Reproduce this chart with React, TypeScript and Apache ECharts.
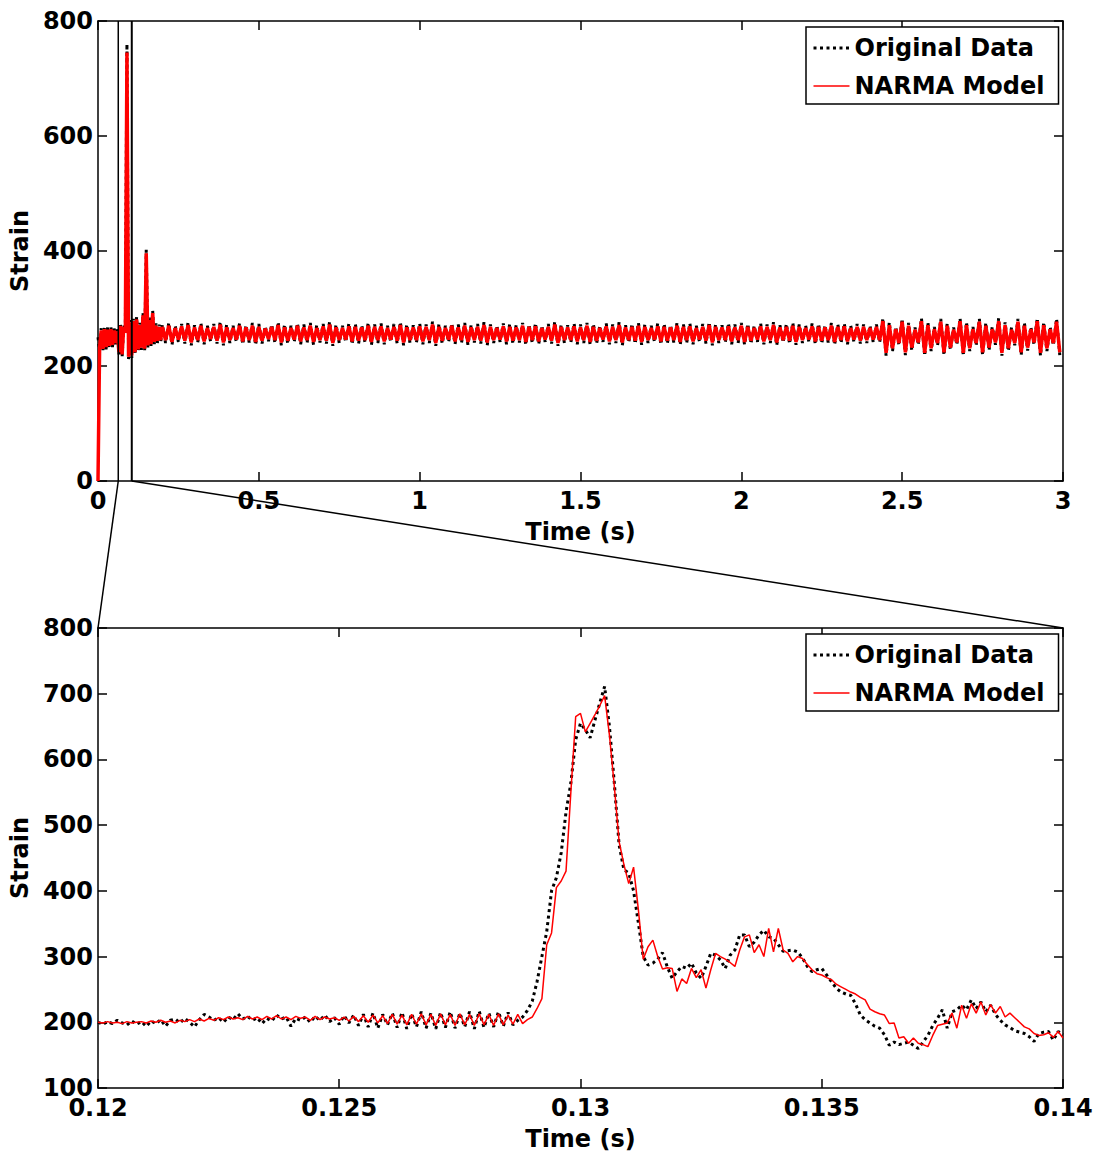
import React, { useEffect, useRef } from "react";
import * as echarts from "echarts";

// ---------- top panel (0 – 3 s) ----------
const EARLY_STEP = 0.005; // early transient sampled every 5 ms (t = 0 … 0.195)
const BAND_START = 0.2; // steady oscillating band, envelope read every 20 ms
const BAND_STEP = 0.02;

const earlyOriginal = [
  250, 228, 266, 226, 268, 229, 267, 231, 268, 233,
  266, 236, 264, 220, 274, 216, 272, 262, 760, 212,
  280, 214, 282, 220, 285, 225, 275, 228, 292, 226,
  402, 232, 284, 234, 296, 238, 274, 240, 272, 242,
];
const earlyModel = [
  0, 232, 262, 230, 264, 233, 263, 235, 264, 237,
  262, 240, 260, 224, 270, 220, 268, 258, 745, 216,
  276, 218, 278, 224, 281, 229, 271, 232, 288, 230,
  396, 236, 280, 238, 292, 242, 270, 244, 268, 245,
];

const bandOriginalHigh = [
  272, 275, 270, 273, 276, 271, 274, 270, 273, 277,
  272, 270, 274, 271, 275, 273, 269, 272, 276, 272,
  270, 274, 272, 275, 271, 273, 277, 272, 270, 274,
  273, 271, 275, 272, 274, 270, 273, 276, 272, 271,
  274, 272, 277, 273, 270, 274, 272, 275, 271, 273,
  276, 272, 270, 274, 273, 271, 275, 272, 274, 270,
  273, 277, 272, 271, 274, 272, 275, 273, 270, 274,
  272, 276, 271, 273, 275, 272, 270, 274, 273, 271,
  275, 272, 274, 270, 273, 276, 272, 271, 274, 272,
  275, 273, 270, 274, 272, 276, 271, 273, 275, 272,
  270, 274, 273, 271, 275, 272, 274, 270, 273, 272, 270,
  272, 283, 276, 268, 282, 275, 267, 283, 276, 268,
  282, 274, 267, 283, 276, 268, 282, 275, 268, 283,
  276, 267, 282, 275, 268, 283, 276, 268, 282,
];
const bandOriginalLow = [
  240, 237, 242, 239, 236, 241, 238, 243, 239, 236,
  240, 242, 238, 241, 237, 239, 243, 240, 236, 239,
  242, 238, 240, 237, 241, 239, 235, 240, 242, 238,
  239, 241, 237, 240, 238, 242, 239, 236, 240, 241,
  238, 240, 235, 239, 242, 238, 240, 237, 241, 239,
  236, 240, 242, 238, 239, 241, 237, 240, 238, 242,
  239, 235, 240, 241, 238, 240, 237, 239, 242, 238,
  240, 236, 241, 239, 237, 240, 242, 238, 239, 241,
  237, 240, 238, 242, 239, 236, 240, 241, 238, 240,
  237, 239, 242, 238, 240, 236, 241, 239, 237, 240,
  242, 238, 239, 241, 237, 240, 238, 242, 239, 240, 242,
  241, 218, 226, 236, 219, 227, 237, 218, 226, 236,
  219, 228, 237, 218, 226, 236, 219, 227, 237, 218,
  226, 236, 219, 227, 237, 218, 226, 236, 219,
];
const bandModelHigh = [
  268, 270, 266, 269, 271, 267, 270, 266, 268, 272,
  267, 266, 270, 267, 270, 268, 265, 268, 271, 267,
  266, 270, 267, 270, 266, 269, 272, 267, 266, 269,
  268, 267, 270, 268, 269, 266, 268, 271, 267, 267,
  269, 268, 272, 268, 266, 270, 267, 270, 267, 268,
  271, 268, 266, 269, 268, 267, 270, 268, 269, 266,
  268, 272, 268, 267, 269, 267, 270, 268, 266, 269,
  268, 271, 267, 268, 270, 268, 266, 269, 268, 267,
  270, 268, 269, 266, 268, 271, 268, 267, 269, 267,
  270, 268, 266, 269, 268, 271, 267, 268, 270, 268,
  266, 269, 268, 267, 270, 268, 269, 266, 268, 268, 266,
  268, 278, 271, 264, 277, 270, 263, 278, 271, 264,
  277, 270, 263, 278, 271, 264, 277, 270, 264, 278,
  271, 263, 277, 270, 264, 278, 271, 264, 277,
];
const bandModelLow = [
  245, 242, 246, 244, 241, 245, 243, 247, 244, 241,
  245, 246, 243, 245, 242, 244, 247, 245, 241, 244,
  246, 243, 245, 242, 245, 244, 240, 245, 246, 243,
  244, 245, 242, 245, 243, 246, 244, 241, 245, 245,
  243, 245, 240, 244, 246, 243, 245, 242, 245, 244,
  241, 245, 246, 243, 244, 245, 242, 245, 243, 246,
  244, 240, 245, 245, 243, 245, 242, 244, 246, 243,
  245, 241, 245, 244, 242, 245, 246, 243, 244, 245,
  242, 245, 243, 246, 244, 241, 245, 245, 243, 245,
  242, 244, 246, 243, 245, 241, 245, 244, 242, 245,
  246, 243, 244, 245, 242, 245, 243, 246, 244, 245, 246,
  245, 223, 231, 240, 224, 232, 241, 223, 231, 240,
  224, 232, 241, 223, 231, 240, 224, 232, 241, 223,
  231, 240, 224, 232, 241, 223, 231, 240, 224,
];

// ---------- bottom panel (0.12 – 0.14 s, sampled every 0.1 ms) ----------
const ZOOM_START = 0.12;
const ZOOM_STEP = 0.0001;
const zoomOriginal = [
  200, 197, 201, 198, 203, 199, 196, 202, 197, 201,
  194, 202, 198, 204, 194, 203, 205, 199, 206, 200,
  193, 204, 212, 208, 203, 207, 200, 208, 204, 213,
  205, 209, 203, 207, 198, 206, 202, 211, 205, 208,
  194, 206, 203, 208, 200, 209, 203, 211, 201, 207,
  197, 210, 199, 211, 195, 212, 193, 214, 191, 212,
  196, 214, 192, 215, 190, 213, 193, 216, 191, 214,
  190, 215, 192, 216, 191, 214, 193, 216, 190, 217,
  192, 214, 193, 216, 194, 215, 196, 203, 208, 218,
  232, 262, 300, 338, 400, 420, 458, 520, 564, 630,
  655, 645, 633, 660, 686, 711, 650, 565, 470, 432,
  427, 400, 351, 300, 287, 290, 296, 306, 284, 267,
  277, 285, 282, 290, 275, 267, 285, 305, 302, 295,
  282, 302, 310, 333, 333, 315, 322, 333, 340, 330,
  328, 318, 308, 309, 310, 307, 298, 285, 277, 280,
  282, 272, 262, 252, 246, 243, 241, 228, 211, 204,
  199, 194, 191, 181, 165, 170, 166, 168, 170, 165,
  160, 170, 180, 195, 206, 219, 191, 216, 219, 226,
  219, 234, 221, 231, 216, 226, 212, 203, 196, 192,
  187, 185, 183, 178, 171, 183, 185, 186, 173, 186,
  181,
];
const zoomModel = [
  200, 199, 201, 199, 200, 198, 201, 199, 200, 201,
  199, 202, 200, 203, 200, 202, 199, 203, 201, 204,
  201, 205, 202, 206, 203, 207, 204, 208, 205, 207,
  204, 209, 205, 208, 204, 209, 205, 210, 205, 208,
  204, 209, 206, 208, 203, 209, 204, 208, 205, 207,
  203, 208, 202, 209, 201, 210, 200, 211, 199, 210,
  198, 212, 197, 211, 196, 212, 197, 213, 196, 212,
  195, 213, 196, 212, 195, 213, 196, 212, 195, 213,
  196, 212, 195, 213, 196, 211, 197, 212, 198, 204,
  208, 221, 236, 318, 336, 405, 415, 430, 550, 665,
  670, 642, 655, 668, 682, 697, 637, 560, 475, 440,
  411, 436, 371, 296, 315, 325, 300, 281, 283, 282,
  247, 266, 259, 282, 268, 280, 252, 280, 305, 300,
  296, 291, 285, 310, 330, 333, 306, 318, 300, 343,
  307, 343, 310, 305, 292, 300, 297, 288, 280, 274,
  272, 268, 265, 258, 254, 250, 246, 243, 238, 234,
  220, 216, 213, 211, 198, 199, 176, 178, 168, 176,
  168, 166, 163, 180, 195, 197, 199, 214, 191, 226,
  206, 228, 214, 231, 211, 227, 214, 224, 208, 214,
  207, 200, 193, 190, 183, 180, 181, 184, 177, 186,
  176,
];

// zoom window as drawn on the top panel (time, s)
const zoomWindow = [0.063, 0.105];

const seriesNames = ["Original Data", "NARMA Model"];
const axisNames = { x: "Time (s)", y: "Strain" };
const topX = { min: 0, max: 3, interval: 0.5 };
const topY = { min: 0, max: 800, interval: 200 };
const botX = { min: 0.12, max: 0.14, interval: 0.005 };
const botY = { min: 100, max: 800, interval: 100 };

function buildTop(early: number[], hi: number[], lo: number[]) {
  const pts: number[][] = early.map((v, i) => [i * EARLY_STEP, v]);
  hi.forEach((h, k) => {
    const t = BAND_START + k * BAND_STEP;
    pts.push([t, h]);
    pts.push([t + BAND_STEP / 2, lo[k]]);
  });
  return pts;
}
const buildZoom = (vals: number[]) => vals.map((v, i) => [ZOOM_START + i * ZOOM_STEP, v]);

const FONT = "DejaVu Sans";
const labelStyle = { fontFamily: FONT, fontWeight: "bold" as const, fontSize: 24, color: "#000" };
const black = "#000";
const red = "#ff0000";
const dotted = [3, 3.5];

function xAxes(gridIndex: number, r: { min: number; max: number; interval: number }) {
  const common = {
    type: "value" as const,
    gridIndex,
    min: r.min,
    max: r.max,
    interval: r.interval,
    splitLine: { show: false },
    axisLine: { show: true, onZero: false, lineStyle: { color: black, width: 1.5 } },
    axisTick: { show: true, inside: true, length: 9, lineStyle: { color: black, width: 1.5 } },
  };
  return [
    {
      ...common,
      position: "bottom",
      name: axisNames.x,
      nameLocation: "middle",
      nameGap: 39,
      nameTextStyle: labelStyle,
      axisLabel: {
        ...labelStyle,
        lineHeight: 20,
        margin: 10,
        formatter: (v: number) => String(parseFloat(v.toFixed(4))),
      },
    },
    { ...common, position: "top", axisLabel: { show: false } },
  ];
}
function yAxes(gridIndex: number, r: { min: number; max: number; interval: number }) {
  const common = {
    type: "value" as const,
    gridIndex,
    min: r.min,
    max: r.max,
    interval: r.interval,
    splitLine: { show: false },
    axisLine: { show: true, onZero: false, lineStyle: { color: black, width: 1.5 } },
    axisTick: { show: true, inside: true, length: 9, lineStyle: { color: black, width: 1.5 } },
  };
  return [
    {
      ...common,
      position: "left",
      name: axisNames.y,
      nameLocation: "middle",
      nameGap: 57,
      nameTextStyle: labelStyle,
      axisLabel: { ...labelStyle, lineHeight: 20, margin: 5 },
    },
    { ...common, position: "right", axisLabel: { show: false } },
  ];
}

function legend(top: number) {
  const hidden = { opacity: 0, color: "rgba(0,0,0,0)", borderWidth: 0 };
  return {
    left: 806,
    top,
    orient: "vertical",
    selectedMode: false,
    itemWidth: 36,
    itemHeight: 14,
    itemGap: 10,
    padding: [7, 14, 4, 6],
    borderColor: black,
    borderWidth: 1.5,
    borderRadius: 0,
    backgroundColor: "#fff",
    textStyle: { ...labelStyle, lineHeight: 28 },
    data: [
      { name: seriesNames[0], itemStyle: hidden, lineStyle: { color: black, width: 3, type: dotted } },
      { name: seriesNames[1], itemStyle: hidden, lineStyle: { color: red, width: 1.5, type: "solid" } },
    ],
  };
}

export default function App() {
  const ref = useRef<HTMLDivElement>(null);
  useEffect(() => {
    if (!ref.current) return;
    const chart = echarts.init(ref.current, null, { renderer: "svg" });
    const lineBase = { type: "line" as const, symbol: "none", showSymbol: false, smooth: false, clip: true };
    chart.setOption({
      animation: false,
      backgroundColor: "#fff",
      grid: [
        { left: 97, right: 36, top: 21, height: 460, containLabel: false },
        { left: 97, right: 36, top: 628, height: 460, containLabel: false },
      ],
      xAxis: [...xAxes(0, topX), ...xAxes(1, botX)],
      yAxis: [...yAxes(0, topY), ...yAxes(1, botY)],
      legend: [legend(27), legend(634)],
      series: [
        {
          ...lineBase,
          name: seriesNames[0],
          xAxisIndex: 0,
          yAxisIndex: 0,
          data: buildTop(earlyOriginal, bandOriginalHigh, bandOriginalLow),
          lineStyle: { color: black, width: 3, type: dotted },
          itemStyle: { color: black },
        },
        {
          ...lineBase,
          name: seriesNames[1],
          xAxisIndex: 0,
          yAxisIndex: 0,
          data: buildTop(earlyModel, bandModelHigh, bandModelLow),
          lineStyle: { color: red, width: 3.5 },
          itemStyle: { color: red },
        },
        {
          ...lineBase,
          name: seriesNames[0],
          xAxisIndex: 2,
          yAxisIndex: 2,
          data: buildZoom(zoomOriginal),
          lineStyle: { color: black, width: 3, type: dotted },
          itemStyle: { color: black },
        },
        {
          ...lineBase,
          name: seriesNames[1],
          xAxisIndex: 2,
          yAxisIndex: 2,
          data: buildZoom(zoomModel),
          lineStyle: { color: red, width: 1.5 },
          itemStyle: { color: red },
        },
      ],
    });

    const px = (grid: number, p: number[]) => chart.convertToPixel({ gridIndex: grid }, p) as number[];
    const lt = px(0, [zoomWindow[0], topY.max]);
    const lb = px(0, [zoomWindow[0], topY.min]);
    const rt = px(0, [zoomWindow[1], topY.max]);
    const rb = px(0, [zoomWindow[1], topY.min]);
    const bl = px(1, [botX.min, botY.max]);
    const br = px(1, [botX.max, botY.max]);
    const seg = (a: number[], b: number[], w: number) => ({
      type: "line",
      z: 50,
      shape: { x1: a[0], y1: a[1], x2: b[0], y2: b[1] },
      style: { stroke: black, lineWidth: w },
    });
    chart.setOption({
      graphic: [seg(lt, lb, 1.5), seg(lb, bl, 1.5), seg(rt, rb, 2), seg(rb, br, 1.5)],
    });
    return () => chart.dispose();
  }, []);
  return (
    <div
      ref={ref}
      style={{ position: "absolute", left: 0, top: 0, width: 1099, height: 1160, background: "#fff" }}
    />
  );
}
